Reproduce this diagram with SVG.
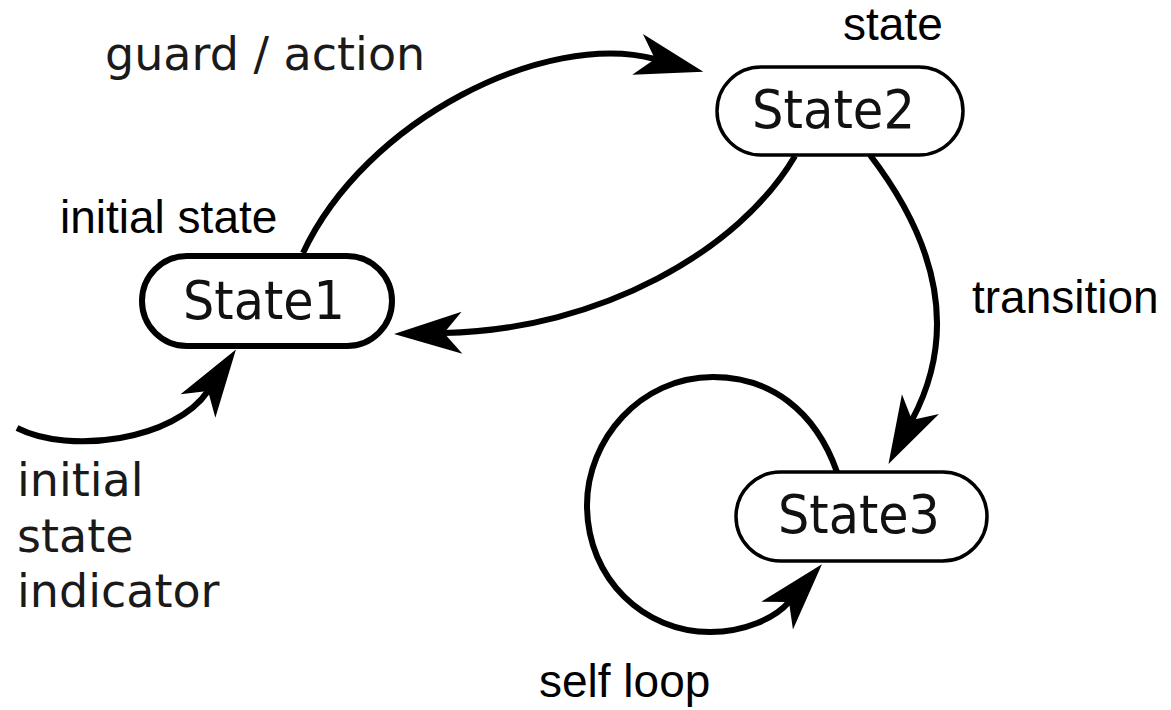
<svg xmlns="http://www.w3.org/2000/svg" width="1171" height="710" viewBox="0 0 1171 710">
<style>
.bg{fill:#fff}
.st{fill:#fff;stroke:#000}
.thick{stroke-width:6}
.thin{stroke-width:3.5}
.conn{fill:none;stroke:#000;stroke-width:6}
.lg{font-family:"DejaVu Sans",sans-serif;fill:#1a1a1a}
.sl{font-family:"DejaVu Sans",sans-serif;font-size:53px;fill:#111}
.ar{font-family:"Liberation Sans",Arial,sans-serif;font-size:46px;fill:#000}
.sm{font-size:46px}
</style>
<defs>
<marker id="arr" markerUnits="userSpaceOnUse" markerWidth="120" markerHeight="120" refX="0" refY="0" orient="auto" overflow="visible" viewBox="-60 -60 120 120">
<path d="M50,0 L-18,-21 L0,0 L-18,21 Z" fill="#000"/>
</marker>
</defs>
<rect class="bg" x="0" y="0" width="1171" height="710"/>
<g id="connectors">
<path class="conn" d="M303,253 C365,120 545,30 655,59" marker-end="url(#arr)"/>
<path class="conn" d="M795,156 C740,250 600,330 444,333" marker-end="url(#arr)"/>
<path class="conn" d="M870,155 C935,240 960,330 912,420" marker-end="url(#arr)"/>
<path class="conn" d="M837,472 C815,410 770,377 713,377 C640,377 587,440 587,505 C587,580 645,632 710,632 C745,632 775,618 789,602" marker-end="url(#arr)"/>
<path class="conn" d="M17,428 C70,455 175,440 208,391" marker-end="url(#arr)"/>
</g>
<g id="state1">
<rect class="st thick" x="142" y="256" width="250" height="90" rx="45"/>
<text class="sl" x="183" y="319" textLength="162" lengthAdjust="spacingAndGlyphs">State1</text>
</g>
<g id="state2">
<rect class="st thin" x="717" y="67" width="246" height="88" rx="44"/>
<text class="sl" x="752" y="128" textLength="163" lengthAdjust="spacingAndGlyphs">State2</text>
</g>
<g id="state3">
<rect class="st thin" x="736" y="472" width="251" height="89" rx="44.5"/>
<text class="sl" x="778" y="533" textLength="162" lengthAdjust="spacingAndGlyphs">State3</text>
</g>
<g id="labels">
<text class="lg sm" x="105" y="70">guard / action</text>
<text class="lg sm" x="17" y="496">initial</text>
<text class="lg sm" x="17" y="552">state</text>
<text class="lg sm" x="17" y="607">indicator</text>
<text class="ar" x="843" y="40">state</text>
<text class="ar" x="60" y="233">initial state</text>
<text class="ar" x="972" y="313">transition</text>
<text class="ar" x="539" y="697">self loop</text>
</g>
</svg>
